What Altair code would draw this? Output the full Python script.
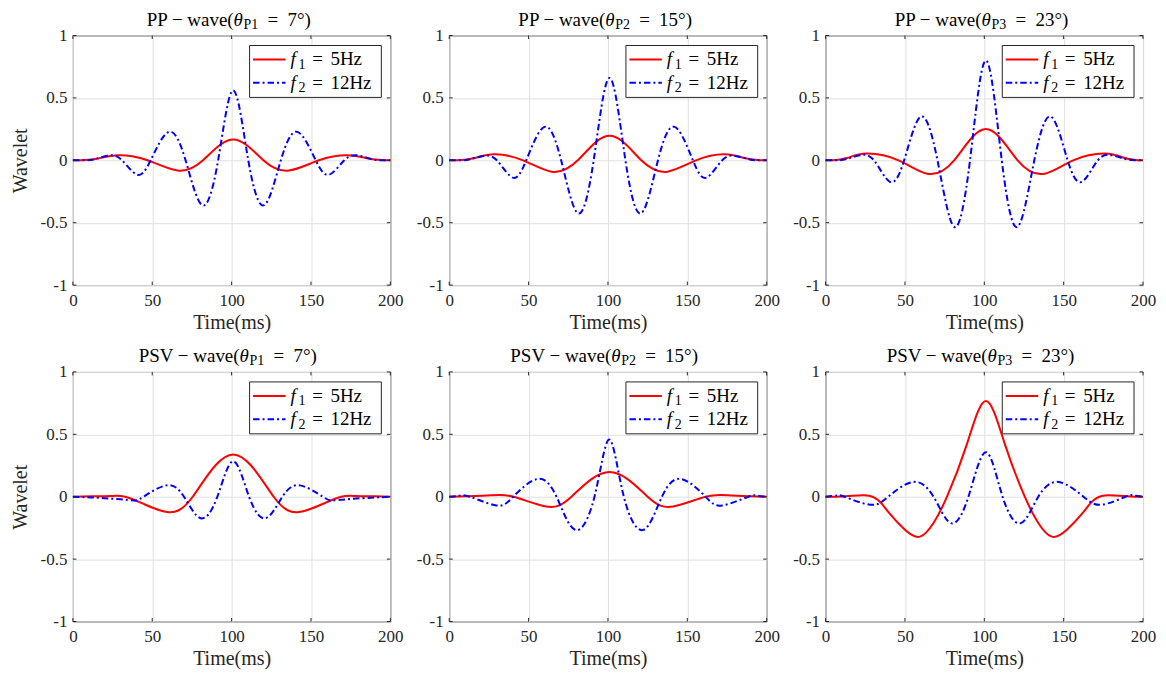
import altair as alt
import pandas as pd

FONT = "Liberation Serif"
INK = "#262626"
GRID = "#e0e0e0"
RED = "#ff0000"
BLUE = "#0000ff"

X_TICKS = [0, 50, 100, 150, 200]
Y_TICKS = [-1, -0.5, 0, 0.5, 1]

# ---- PP-wave, theta_P1 = 7 deg
PP7_RED_T = [0, 8, 16, 29, 47, 66, 82, 101, 120, 136, 155, 173, 186, 194, 200]
PP7_RED_Y = [0, 0.002, 0.015, 0.04, 0, -0.082, 0, 0.167, 0, -0.082, 0, 0.04, 0.015, 0.002, 0]
PP7_BLUE_T = [0, 8, 14, 23, 31, 40.5, 49, 60.5, 71, 81.5, 91.5, 101, 110.5, 120.5, 131, 141.5, 153, 161.5, 171, 179, 188, 194, 200]
PP7_BLUE_Y = [0, 0, 0.01, 0.04, 0, -0.115, 0, 0.228, 0, -0.36, 0, 0.56, 0, -0.36, 0, 0.228, 0, -0.115, 0, 0.04, 0.01, 0, 0]

# ---- PP-wave, theta_P2 = 15 deg
PP15_RED_T = [0, 8, 16, 28.5, 46.5, 64.5, 81, 101, 121, 137.5, 155.5, 173.5, 186, 194, 200]
PP15_RED_Y = [0, 0.003, 0.018, 0.048, 0, -0.091, 0, 0.196, 0, -0.091, 0, 0.048, 0.018, 0.003, 0]
PP15_BLUE_T = [0, 8, 13, 21.5, 30, 40, 48.5, 60, 70.5, 81, 91, 101, 111, 121, 131.5, 142, 153.5, 162, 172, 180.5, 189, 194, 200]
PP15_BLUE_Y = [0, 0, 0.008, 0.035, 0, -0.139, 0, 0.268, 0, -0.424, 0, 0.66, 0, -0.424, 0, 0.268, 0, -0.139, 0, 0.035, 0.008, 0, 0]

# ---- PP-wave, theta_P3 = 23 deg
PP23_RED_T = [0, 7, 14, 26, 46, 64, 81, 101, 121, 138, 156, 176, 188, 195, 200]
PP23_RED_Y = [0, 0.003, 0.02, 0.054, 0, -0.107, 0, 0.25, 0, -0.107, 0, 0.054, 0.02, 0.003, 0]
PP23_BLUE_T = [0, 7, 13, 21.5, 30.5, 40.5, 49.5, 60, 70.5, 81, 91, 101, 111, 121, 131.5, 142, 152.5, 161.5, 171.5, 180.5, 189, 195, 200]
PP23_BLUE_Y = [0, 0, 0.01, 0.04, 0, -0.172, 0, 0.35, 0, -0.533, 0, 0.8, 0, -0.533, 0, 0.35, 0, -0.172, 0, 0.04, 0.01, 0, 0]

# ---- PSV-wave, theta_P1 = 7 deg
PSV7_RED_T = [0, 12, 24, 33, 45, 59.5, 75.5, 101, 126.5, 142.5, 157, 169, 178, 190, 200]
PSV7_RED_Y = [0, 0.003, 0.006, 0, -0.06, -0.123, 0, 0.338, 0, -0.123, -0.06, 0, 0.006, 0.003, 0]
PSV7_BLUE_T = [0, 10, 20, 30, 38.5, 44.5, 59, 70, 80.5, 91, 101, 111, 121.5, 132, 143, 157.5, 163.5, 172, 182, 192, 200]
PSV7_BLUE_Y = [0, -0.005, -0.012, -0.021, -0.03, 0, 0.091, 0, -0.172, 0, 0.284, 0, -0.172, 0, 0.091, 0, -0.03, -0.021, -0.012, -0.005, 0]

# ---- PSV-wave, theta_P2 = 15 deg
PSV15_RED_T = [0, 10, 26.5, 40.5, 61, 77, 101, 125, 141, 161.5, 175.5, 190, 200]
PSV15_RED_Y = [0, 0.004, 0.011, 0, -0.078, 0, 0.198, 0, -0.078, 0, 0.011, 0.004, 0]
PSV15_BLUE_T = [0, 6, 13, 29.8, 40.3, 55.5, 67.6, 79.2, 91.5, 100.8, 110, 122.5, 134, 146.2, 161.5, 172, 188.5, 195, 200]
PSV15_BLUE_Y = [0, 0.007, 0, -0.07, 0, 0.142, 0, -0.265, 0, 0.458, 0, -0.265, 0, 0.142, 0, -0.07, 0, 0.007, 0]

# ---- PSV-wave, theta_P3 = 23 deg
PSV23_RED_T = [0, 10, 17, 24, 28, 31, 35, 40, 50, 59.5, 68, 76.5, 89, 101, 113, 125.5, 134, 142.5, 152, 162, 167, 171, 174, 178, 185, 192, 200]
PSV23_RED_Y = [0, 0.002, 0.008, 0.011, 0.006, -0.01, -0.05, -0.13, -0.265, -0.32, -0.21, 0, 0.42, 0.767, 0.42, 0, -0.21, -0.32, -0.265, -0.13, -0.05, -0.01, 0.006, 0.011, 0.008, 0.002, 0]
PSV23_BLUE_T = [0, 7, 12, 28, 39.5, 55, 68, 79, 90, 101, 111.5, 123, 134, 147, 162.5, 174, 189, 194, 200]
PSV23_BLUE_Y = [0, 0.01, 0, -0.064, 0, 0.118, 0, -0.212, 0, 0.357, 0, -0.212, 0, 0.118, 0, -0.064, 0, 0.01, 0]

WAVES = ["PP", "PP", "PP", "PSV", "PSV", "PSV"]
ANGLE_IDX = ["1", "2", "3", "1", "2", "3"]
ANGLES = ["7", "15", "23", "7", "15", "23"]
LEGEND_F = ["1", "2"]
LEGEND_HZ = ["5Hz", "12Hz"]
SERIES = [
    (PP7_RED_T, PP7_RED_Y, PP7_BLUE_T, PP7_BLUE_Y),
    (PP15_RED_T, PP15_RED_Y, PP15_BLUE_T, PP15_BLUE_Y),
    (PP23_RED_T, PP23_RED_Y, PP23_BLUE_T, PP23_BLUE_Y),
    (PSV7_RED_T, PSV7_RED_Y, PSV7_BLUE_T, PSV7_BLUE_Y),
    (PSV15_RED_T, PSV15_RED_Y, PSV15_BLUE_T, PSV15_BLUE_Y),
    (PSV23_RED_T, PSV23_RED_Y, PSV23_BLUE_T, PSV23_BLUE_Y),
]

W, H = 318, 250
DASH = [6.5, 3, 2, 3]
ONE = alt.Data(values=[{}])


def text_piece(txt, x, y, size, style="normal", align="left"):
    return alt.Chart(ONE).mark_text(
        text=txt, font=FONT, fontSize=size, fontStyle=style, align=align,
        baseline="alphabetic", color="#000000",
    ).encode(x=alt.value(x), y=alt.value(y))


def panel(i):
    rt, ry, bt, by = SERIES[i]
    first_col = (i % 3 == 0)
    xs = alt.Scale(domain=[0, 200], nice=False, zero=False)
    ys = alt.Scale(domain=[-1, 1], nice=False, zero=False)
    xaxis = alt.Axis(
        values=X_TICKS, title="Time(ms)", grid=True, gridColor=GRID, ticks=False,
        domain=False, labelFlush=False, labelPadding=7, titlePadding=4,
        labelFontSize=17, titleFontSize=20, labelColor=INK, titleColor=INK,
        titleFontWeight="normal", labelFont=FONT, titleFont=FONT,
    )
    ykw = dict(
        values=Y_TICKS, grid=True,
        gridColor=GRID, ticks=False, domain=False, labelPadding=6, titlePadding=10,
        labelFontSize=17, titleFontSize=20, labelColor=INK, titleColor=INK,
        titleFontWeight="normal", labelFont=FONT, titleFont=FONT,
        labelExpr="datum.value < 0 ? '-' + format(-datum.value, '~g') : format(datum.value, '~g')",
    )
    yaxis = alt.Axis(title="Wavelet", **ykw) if first_col else alt.Axis(title=None, **ykw)

    def X(field):
        return alt.X(field, scale=xs, axis=xaxis)

    def Y(field):
        return alt.Y(field, scale=ys, axis=yaxis)

    red = alt.Chart(pd.DataFrame({"t": rt, "y": ry})).mark_line(
        color=RED, strokeWidth=2, interpolate="natural"
    ).encode(x=X("t:Q"), y=Y("y:Q"))
    blue = alt.Chart(pd.DataFrame({"t": bt, "y": by})).mark_line(
        color=BLUE, strokeWidth=2, strokeDash=DASH, interpolate="natural"
    ).encode(x=X("t:Q"), y=Y("y:Q"))

    xt = pd.DataFrame({"t": X_TICKS})
    yt = pd.DataFrame({"y": Y_TICKS})
    ticks = [
        alt.Chart(xt).mark_rule(color=INK, strokeWidth=1).encode(
            x=X("t:Q"), y=alt.value(H), y2=alt.value(H - 3.5)),
        alt.Chart(xt).mark_rule(color=INK, strokeWidth=1).encode(
            x=X("t:Q"), y=alt.value(0), y2=alt.value(3.5)),
        alt.Chart(yt).mark_rule(color=INK, strokeWidth=1).encode(
            y=Y("y:Q"), x=alt.value(0), x2=alt.value(3.5)),
        alt.Chart(yt).mark_rule(color=INK, strokeWidth=1).encode(
            y=Y("y:Q"), x=alt.value(W), x2=alt.value(W - 3.5)),
    ]

    # legend box
    lx0, lx1, ly0, ly1 = W - 141, W - 9, 10, 62
    legend = [
        alt.Chart(ONE).mark_rect(fill="white", stroke=INK, strokeWidth=1).encode(
            x=alt.value(lx0), x2=alt.value(lx1), y=alt.value(ly0), y2=alt.value(ly1)),
        alt.Chart(ONE).mark_rule(color=RED, strokeWidth=2).encode(
            x=alt.value(lx0 + 3.5), x2=alt.value(lx0 + 36), y=alt.value(ly0 + 14)),
        alt.Chart(ONE).mark_rule(color=BLUE, strokeWidth=2, strokeDash=DASH).encode(
            x=alt.value(lx0 + 3.5), x2=alt.value(lx0 + 36), y=alt.value(ly0 + 37.3)),
    ]
    for r in range(2):
        base = ly0 + 20 + r * 23.3
        legend.append(text_piece("f", lx0 + 41, base, 19, "italic"))
        legend.append(text_piece(LEGEND_F[r], lx0 + 49, base + 3.5, 14))
        legend.append(text_piece("=", lx0 + 62.7, base, 19))
        legend.append(text_piece(LEGEND_HZ[r], lx0 + 81, base, 19))

    # title pieces
    c = W / 2
    shift = (6 if WAVES[i] == "PSV" else 0) - 4.75 * (len(ANGLES[i]) - 1)
    ty = -10
    title = [
        text_piece(WAVES[i] + " \u2212 wave(", c + 2 + shift, ty, 19, align="right"),
        text_piece("\u03b8", c + 2 + shift, ty, 19, "italic"),
        text_piece("P" + ANGLE_IDX[i], c + 12 + shift, ty + 3.5, 14),
        text_piece("=", c + 36 + shift, ty, 19),
        text_piece(ANGLES[i] + "\u00b0)", c + 56 + shift, ty, 19),
    ]

    return alt.layer(red, blue, *ticks, *legend, *title).properties(width=W, height=H)


chart = alt.concat(
    *[panel(i) for i in range(6)], columns=3,
    spacing={"row": 87, "column": 59}, bounds="flush",
).properties(
    padding={"left": 1, "top": 1, "right": 1, "bottom": 1}
).configure(
    font=FONT
).configure_view(
    stroke=INK, strokeWidth=1
).configure_axis(
    labelFont=FONT, titleFont=FONT
).configure_text(
    font=FONT
)

chart.save("out.html", embed_options={"renderer": "svg", "actions": False})
